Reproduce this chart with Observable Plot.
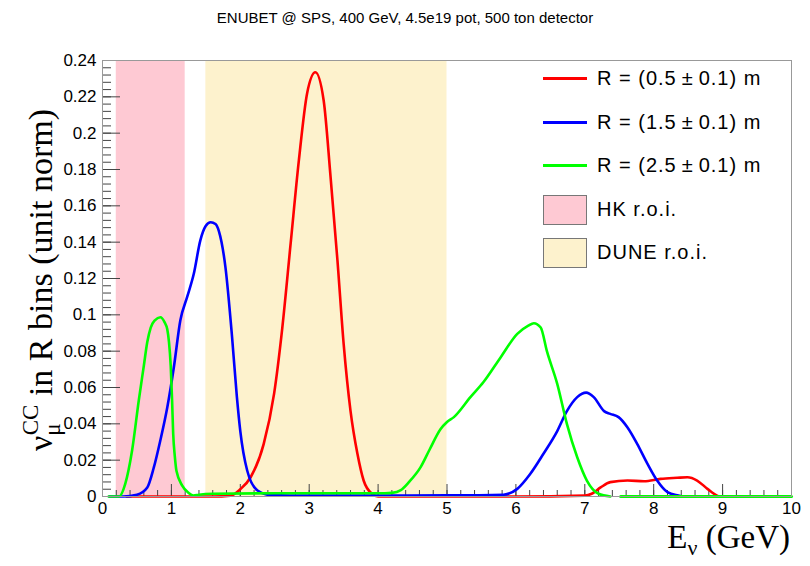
<!DOCTYPE html>
<html>
<head>
<meta charset="utf-8">
<script src="https://cdn.jsdelivr.net/npm/d3@7"></script>
<script src="https://cdn.jsdelivr.net/npm/@observablehq/plot@0.6"></script>
<style>
  body { margin: 0; background: #fff; }
  #wrap { position: relative; width: 810px; height: 566px; overflow: hidden; }
  #title { position: absolute; left: 0; top: 0; width: 810px; height: 40px; text-align: center;
           font-family: "Liberation Sans", Arial, sans-serif; font-size: 15px; line-height: 36px; color: #000; }
  #chart { position: absolute; left: 0; top: 40px; }
  #legend { position: absolute; left: 543px; top: 58px; font-family: "Liberation Sans", Arial, sans-serif;
            font-size: 20px; letter-spacing: 1px; color: #000; }
  .row { position: absolute; left: 0; height: 44px; width: 260px; }
  .sw-line { position: absolute; left: 0; width: 44px; height: 3px; top: 19px; }
  .sw-box { position: absolute; left: 0; width: 42px; height: 28px; top: 6px; border: 1px solid #777; }
  .lab { position: absolute; left: 54px; top: 8px; white-space: nowrap; line-height: 24px; }
</style>
</head>
<body>
<div id="wrap">
  <div id="title"></div>
  <div id="chart"></div>
  <div id="legend"></div>
</div>
<script>
// ---- data ----
const titleText = "ENUBET @ SPS, 400 GeV, 4.5e19 pot, 500 ton detector";
const seriesNames = ["R = (0.5\u2009\u00b1\u20090.1) m", "R = (1.5\u2009\u00b1\u20090.1) m", "R = (2.5\u2009\u00b1\u20090.1) m"];
const seriesColors = ["#ff0000", "#0000ff", "#00ff00"];
const regionNames = ["HK r.o.i.", "DUNE r.o.i."];
const regionColors = ["#fec9d3", "#fdf2cd"];
const hkRange = [0.2, 1.2];
const duneRange = [1.5, 5.0];

const redE = [0.35, 1.0, 1.6, 1.86, 2.0, 2.15, 2.34, 2.49, 2.61, 2.73, 2.85, 2.97, 3.09, 3.21, 3.31, 3.41, 3.50, 3.60, 3.70, 3.79, 3.91, 4.0, 5.0, 6.0, 7.0, 7.1, 7.23, 7.37, 7.62, 7.86, 8.10, 8.34, 8.49, 8.63, 8.78, 8.92, 8.96];
const redV = [0, 0, 0, 0.0005, 0.004, 0.0106, 0.029, 0.0565, 0.093, 0.139, 0.185, 0.222, 0.2335, 0.218, 0.176, 0.130, 0.084, 0.047, 0.0235, 0.0088, 0.0015, 0, 0, 0, 0.0005, 0.0015, 0.005, 0.0079, 0.0088, 0.0084, 0.0097, 0.0103, 0.0106, 0.0088, 0.0042, 0.0005, 0];

const blueE = [0.1, 0.3, 0.5, 0.65, 0.745, 0.84, 0.94, 1.035, 1.13, 1.23, 1.325, 1.42, 1.50, 1.57, 1.64, 1.69, 1.785, 1.88, 1.95, 2.0, 2.10, 2.25, 2.44, 3.0, 4.0, 5.0, 5.82, 6.02, 6.21, 6.40, 6.60, 6.74, 6.89, 7.02, 7.13, 7.28, 7.37, 7.49, 7.62, 7.76, 7.91, 8.05, 8.20, 8.36, 8.42];
const blueV = [0, 0, 0.001, 0.005, 0.016, 0.031, 0.049, 0.071, 0.097, 0.110, 0.1226, 0.141, 0.149, 0.151, 0.150, 0.146, 0.126, 0.088, 0.055, 0.036, 0.0143, 0.0033, 0.0008, 0.0005, 0.0005, 0.0006, 0.001, 0.0042, 0.0125, 0.0235, 0.036, 0.047, 0.0547, 0.0572, 0.0547, 0.047, 0.0455, 0.0437, 0.038, 0.029, 0.018, 0.0088, 0.0024, 0.0005, 0];

const greenE = [0.09, 0.24, 0.33, 0.43, 0.527, 0.60, 0.65, 0.70, 0.76, 0.84, 0.90, 0.94, 0.965, 0.99, 1.01, 1.026, 1.05, 1.074, 1.157, 1.25, 1.32, 1.4, 1.6, 2.5, 3.5, 4.1, 4.2, 4.33, 4.45, 4.615, 4.75, 4.905, 5.0, 5.10, 5.34, 5.53, 5.78, 6.02, 6.18, 6.26, 6.36, 6.45, 6.60, 6.74, 6.89, 7.03, 7.20, 7.37];
const greenV = [0, 0, 0.007, 0.0255, 0.053, 0.072, 0.085, 0.093, 0.097, 0.0987, 0.096, 0.092, 0.085, 0.072, 0.053, 0.0345, 0.022, 0.014, 0.006, 0.002, 0.0005, 0.001, 0.0015, 0.0018, 0.0018, 0.0018, 0.002, 0.0035, 0.008, 0.016, 0.026, 0.037, 0.041, 0.0437, 0.0547, 0.063, 0.0767, 0.0895, 0.094, 0.0954, 0.093, 0.080, 0.062, 0.040, 0.0216, 0.0088, 0.0015, 0];
const greenTailE = [7.52, 10];
const greenTailV = [0, 0];

const xTicks = d3.range(0, 11, 1);
const xMinor = d3.range(0, 10.001, 0.2);
const yTicks = d3.range(0, 0.2401, 0.02);
const yMinor = d3.range(0, 0.2401, 0.004);

// ---- layout ----
const W = 810, H = 526, mL = 102, mR = 19, mT = 20, mB = 70;
const pw = W - mL - mR, ph = H - mT - mB;
const yPerPx = 0.24 / ph, xPerPx = 10 / pw;

const toRows = (E, V) => E.map((e, i) => ({E: e, V: V[i]}));
const red = toRows(redE, redV), blue = toRows(blueE, blueV), green = toRows(greenE, greenV), greenTail = toRows(greenTailE, greenTailV);

const fmtY = d => d === 0 ? "0" : String(+d.toFixed(2));

const chart = Plot.plot({
  width: W, height: H,
  marginLeft: mL, marginRight: mR, marginTop: mT, marginBottom: mB,
  style: {fontFamily: "'Liberation Sans', Arial, sans-serif", fontSize: "17px", color: "#000", background: "transparent", overflow: "visible"},
  x: {domain: [0, 10]},
  y: {domain: [0, 0.24]},
  marks: [
    Plot.rect([hkRange], {x1: d => d[0], x2: d => d[1], y1: 0, y2: 0.24, fill: regionColors[0]}),
    Plot.rect([duneRange], {x1: d => d[0], x2: d => d[1], y1: 0, y2: 0.24, fill: regionColors[1]}),
    Plot.ruleX(xMinor, {x: d => d, y1: 0, y2: 6 * yPerPx, stroke: "#444", strokeWidth: 1}),
    Plot.ruleX(xTicks, {x: d => d, y1: 0, y2: 12 * yPerPx, stroke: "#444", strokeWidth: 1}),
    Plot.ruleY(yMinor, {y: d => d, x1: 0, x2: 9 * xPerPx, stroke: "#444", strokeWidth: 1}),
    Plot.ruleY(yTicks, {y: d => d, x1: 0, x2: 18 * xPerPx, stroke: "#444", strokeWidth: 1}),
    Plot.line(red, {x: "E", y: "V", stroke: seriesColors[0], strokeWidth: 2.6, curve: "monotone-x"}),
    Plot.line(blue, {x: "E", y: "V", stroke: seriesColors[1], strokeWidth: 2.6, curve: "monotone-x"}),
    Plot.line(green, {x: "E", y: "V", stroke: seriesColors[2], strokeWidth: 2.6, curve: "monotone-x"}),
    Plot.line(greenTail, {x: "E", y: "V", stroke: seriesColors[2], strokeWidth: 3}),
    Plot.frame({stroke: "#999", strokeWidth: 1}),
    Plot.axisX({ticks: xTicks, tickSize: 0, tickPadding: 5, label: null, tickFormat: d => String(d)}),
    Plot.axisY({ticks: yTicks, tickSize: 0, tickPadding: 6, label: null, tickFormat: fmtY})
  ]
});
document.getElementById("chart").appendChild(chart);
document.getElementById("title").textContent = titleText;

// axis titles with sub/superscripts (SVG text)
const svg = d3.select(chart);
const yl = svg.append("text")
  .attr("transform", `translate(52,${mT + ph / 2 + 2}) rotate(-90)`)
  .attr("text-anchor", "middle")
  .style("font-family", "'Liberation Serif', 'Times New Roman', serif")
  .style("font-size", "34px").attr("fill", "#000");
yl.append("tspan").text("\u03bd");
yl.append("tspan").attr("dy", 8).style("font-size", "23px").text("\u03bc");
yl.append("tspan").attr("dy", -22).attr("dx", -12).style("font-size", "23px").text("CC");
yl.append("tspan").attr("dy", 14).text(" in R bins (unit norm)");

const xl = svg.append("text")
  .attr("x", 790).attr("y", mT + ph + 52)
  .attr("text-anchor", "end")
  .style("font-family", "'Liberation Serif', 'Times New Roman', serif")
  .style("font-size", "33px").attr("fill", "#000");
xl.append("tspan").text("E");
xl.append("tspan").attr("dy", 7).style("font-size", "22px").text("\u03bd");
xl.append("tspan").attr("dy", -7).text(" (GeV)");

// legend
const legend = document.getElementById("legend");
const rowStep = 43.5;
seriesNames.forEach((name, i) => {
  const r = document.createElement("div"); r.className = "row"; r.style.top = (i * rowStep) + "px";
  const s = document.createElement("div"); s.className = "sw-line"; s.style.background = seriesColors[i];
  const t = document.createElement("div"); t.className = "lab"; t.textContent = name;
  r.appendChild(s); r.appendChild(t); legend.appendChild(r);
});
regionNames.forEach((name, j) => {
  const i = j + 3;
  const r = document.createElement("div"); r.className = "row"; r.style.top = (i * rowStep) + "px";
  const s = document.createElement("div"); s.className = "sw-box"; s.style.background = regionColors[j];
  const t = document.createElement("div"); t.className = "lab"; t.textContent = name;
  r.appendChild(s); r.appendChild(t); legend.appendChild(r);
});
</script>
</body>
</html>
